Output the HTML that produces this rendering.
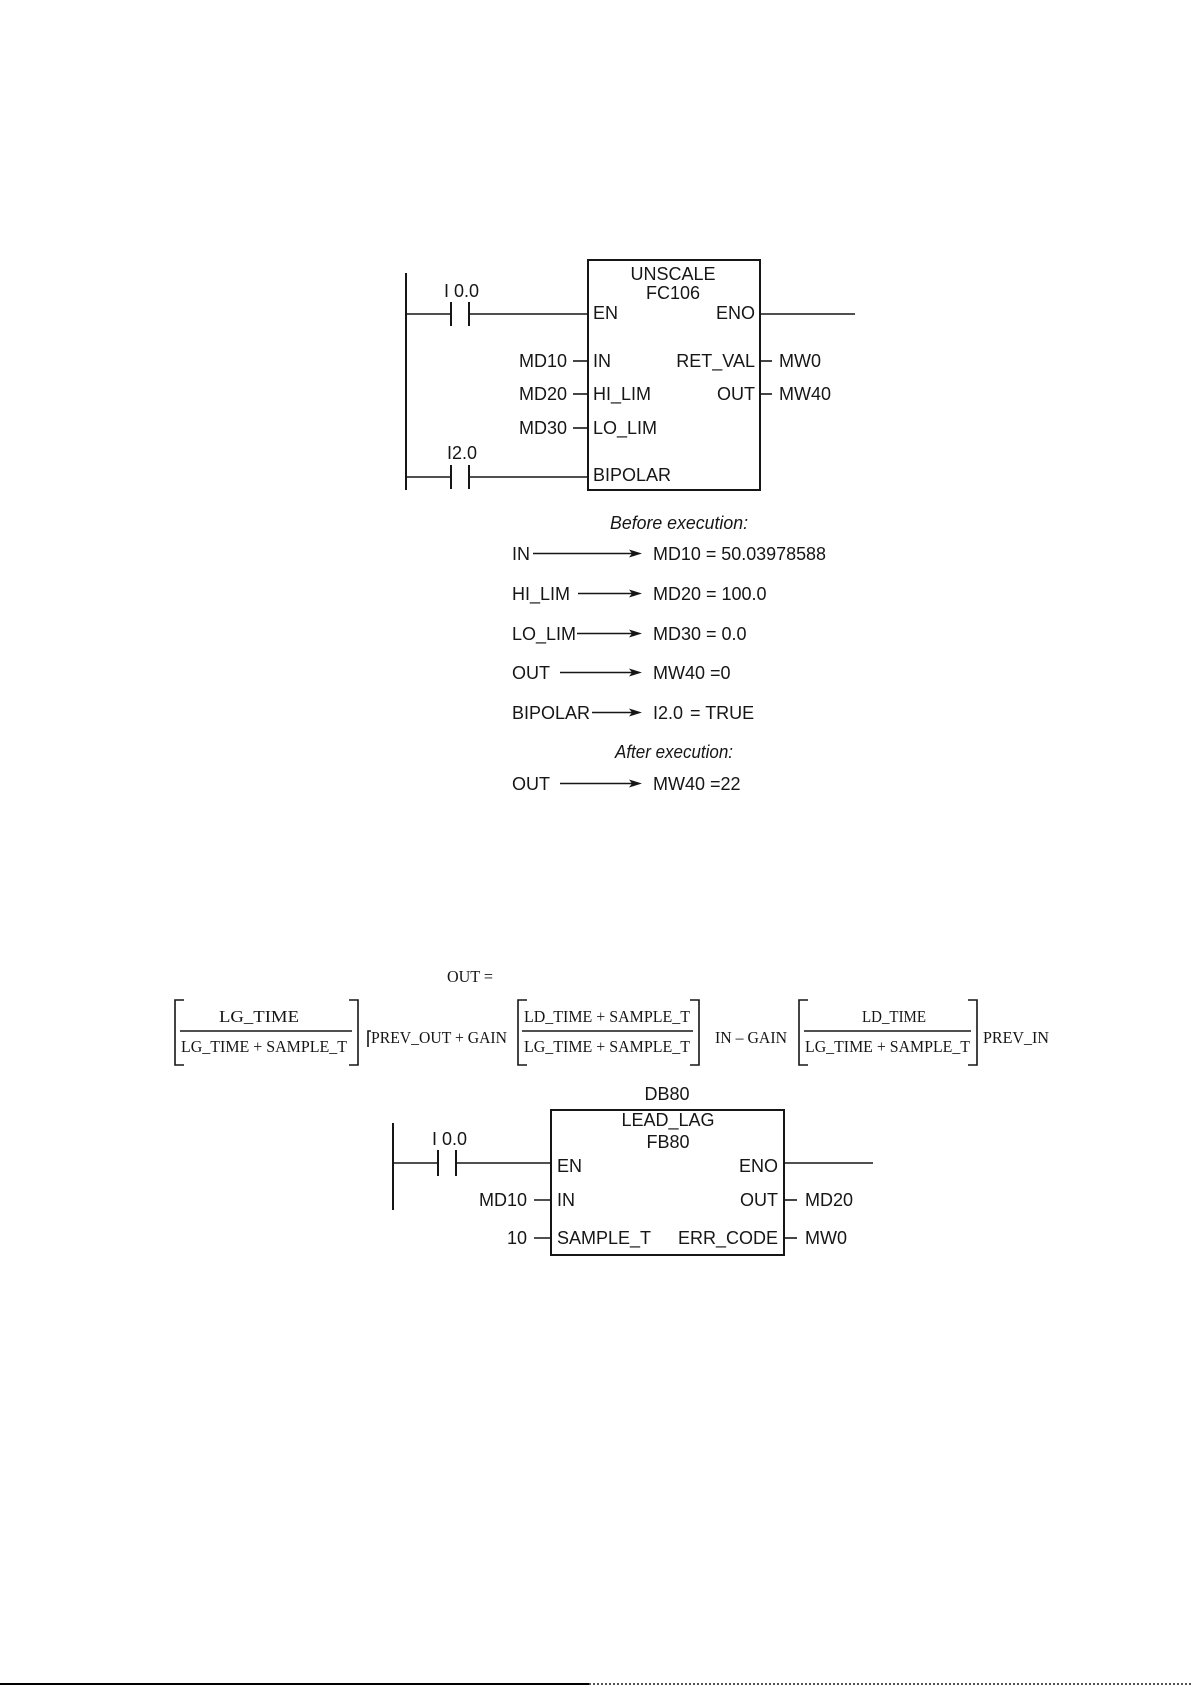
<!DOCTYPE html>
<html>
<head>
<meta charset="utf-8">
<style>
html,body{margin:0;padding:0;background:#fff;}
svg{display:block;}
.s{font-family:"Liberation Sans",Arial,sans-serif;font-size:18px;fill:#161616;}
.i{font-family:"Liberation Sans",Arial,sans-serif;font-size:18px;font-style:italic;fill:#161616;}
.f{font-family:"Liberation Serif","Times New Roman",serif;font-size:17px;fill:#161616;}
.w{stroke:#161616;stroke-width:1.6;fill:none;}
.b{stroke:#161616;stroke-width:2;fill:none;}
</style>
</head>
<body>
<svg width="1191" height="1685" viewBox="0 0 1191 1685" xmlns="http://www.w3.org/2000/svg">
<rect width="1191" height="1685" fill="#fff"/>

<!-- ===== UNSCALE diagram ===== -->
<line class="b" x1="406" y1="273" x2="406" y2="490"/>
<line class="w" x1="406" y1="314" x2="451" y2="314"/>
<line class="b" x1="451" y1="302" x2="451" y2="326"/>
<line class="b" x1="469" y1="302" x2="469" y2="326"/>
<line class="w" x1="469" y1="314" x2="588" y2="314"/>
<line class="w" x1="406" y1="477" x2="451" y2="477"/>
<line class="b" x1="451" y1="465" x2="451" y2="489"/>
<line class="b" x1="469" y1="465" x2="469" y2="489"/>
<line class="w" x1="469" y1="477" x2="588" y2="477"/>
<rect class="b" x="588" y="260" width="172" height="230"/>
<line class="w" x1="760" y1="314" x2="855" y2="314"/>
<line class="w" x1="573" y1="361" x2="588" y2="361"/>
<line class="w" x1="573" y1="394" x2="588" y2="394"/>
<line class="w" x1="573" y1="428" x2="588" y2="428"/>
<line class="w" x1="760" y1="361" x2="772" y2="361"/>
<line class="w" x1="760" y1="394" x2="772" y2="394"/>

<text class="s" x="673" y="280" text-anchor="middle">UNSCALE</text>
<text class="s" x="673" y="299" text-anchor="middle">FC106</text>
<text class="s" x="444" y="297">I 0.0</text>
<text class="s" x="593" y="319">EN</text>
<text class="s" x="755" y="319" text-anchor="end">ENO</text>
<text class="s" x="567" y="367" text-anchor="end">MD10</text>
<text class="s" x="593" y="367">IN</text>
<text class="s" x="755" y="367" text-anchor="end">RET_VAL</text>
<text class="s" x="779" y="367">MW0</text>
<text class="s" x="567" y="400" text-anchor="end">MD20</text>
<text class="s" x="593" y="400">HI_LIM</text>
<text class="s" x="755" y="400" text-anchor="end">OUT</text>
<text class="s" x="779" y="400">MW40</text>
<text class="s" x="567" y="434" text-anchor="end">MD30</text>
<text class="s" x="593" y="434">LO_LIM</text>
<text class="s" x="447" y="459">I2.0</text>
<text class="s" x="593" y="481">BIPOLAR</text>

<!-- ===== Execution table ===== -->
<text class="i" x="610" y="529" textLength="138" lengthAdjust="spacingAndGlyphs">Before execution:</text>

<text class="s" x="512" y="560">IN</text>
<line class="w" x1="533" y1="553.5" x2="634" y2="553.5"/>
<polygon points="642,553.5 629,549.5 632,553.5 629,557.5" fill="#161616"/>
<text class="s" x="653" y="560" textLength="173" lengthAdjust="spacingAndGlyphs">MD10 = 50.03978588</text>

<text class="s" x="512" y="600">HI_LIM</text>
<line class="w" x1="578" y1="593.5" x2="634" y2="593.5"/>
<polygon points="642,593.5 629,589.5 632,593.5 629,597.5" fill="#161616"/>
<text class="s" x="653" y="600">MD20 = 100.0</text>

<text class="s" x="512" y="640">LO_LIM</text>
<line class="w" x1="577" y1="633.5" x2="634" y2="633.5"/>
<polygon points="642,633.5 629,629.5 632,633.5 629,637.5" fill="#161616"/>
<text class="s" x="653" y="640">MD30 = 0.0</text>

<text class="s" x="512" y="679">OUT</text>
<line class="w" x1="560" y1="672.5" x2="634" y2="672.5"/>
<polygon points="642,672.5 629,668.5 632,672.5 629,676.5" fill="#161616"/>
<text class="s" x="653" y="679">MW40 =0</text>

<text class="s" x="512" y="719">BIPOLAR</text>
<line class="w" x1="592" y1="712.5" x2="634" y2="712.5"/>
<polygon points="642,712.5 629,708.5 632,712.5 629,716.5" fill="#161616"/>
<text class="s" x="653" y="719">I2.0</text>
<text class="s" x="690" y="719">= TRUE</text>

<text class="i" x="615" y="758" textLength="118" lengthAdjust="spacingAndGlyphs">After execution:</text>

<text class="s" x="512" y="790">OUT</text>
<line class="w" x1="560" y1="783.5" x2="634" y2="783.5"/>
<polygon points="642,783.5 629,779.5 632,783.5 629,787.5" fill="#161616"/>
<text class="s" x="653" y="790">MW40 =22</text>

<!-- ===== Formula ===== -->
<text class="f" x="447" y="982" textLength="46" lengthAdjust="spacingAndGlyphs">OUT =</text>

<path class="w" d="M184,1000 H175 V1065 H184"/>
<path class="w" d="M349,1000 H358 V1065 H349"/>
<line class="w" x1="180" y1="1031" x2="352" y2="1031" stroke-width="1.3"/>
<text class="f" x="219" y="1022" textLength="80" lengthAdjust="spacingAndGlyphs">LG_TIME</text>
<text class="f" x="181" y="1052" textLength="166" lengthAdjust="spacingAndGlyphs">LG_TIME + SAMPLE_T</text>

<path class="w" d="M371,1031 H368 V1047" stroke-width="1.2"/>
<text class="f" x="371" y="1043" textLength="136" lengthAdjust="spacingAndGlyphs">PREV_OUT + GAIN</text>

<path class="w" d="M527,1000 H518 V1065 H527"/>
<path class="w" d="M690,1000 H699 V1065 H690"/>
<line class="w" x1="522" y1="1031" x2="693" y2="1031" stroke-width="1.3"/>
<text class="f" x="524" y="1022" textLength="166" lengthAdjust="spacingAndGlyphs">LD_TIME + SAMPLE_T</text>
<text class="f" x="524" y="1052" textLength="166" lengthAdjust="spacingAndGlyphs">LG_TIME + SAMPLE_T</text>

<text class="f" x="715" y="1043" textLength="72" lengthAdjust="spacingAndGlyphs">IN – GAIN</text>

<path class="w" d="M808,1000 H799 V1065 H808"/>
<path class="w" d="M968,1000 H977 V1065 H968"/>
<line class="w" x1="804" y1="1031" x2="971" y2="1031" stroke-width="1.3"/>
<text class="f" x="862" y="1022" textLength="64" lengthAdjust="spacingAndGlyphs">LD_TIME</text>
<text class="f" x="805" y="1052" textLength="165" lengthAdjust="spacingAndGlyphs">LG_TIME + SAMPLE_T</text>

<text class="f" x="983" y="1043" textLength="66" lengthAdjust="spacingAndGlyphs">PREV_IN</text>

<!-- ===== LEAD_LAG diagram ===== -->
<text class="s" x="667" y="1100" text-anchor="middle">DB80</text>
<rect class="b" x="551" y="1110" width="233" height="145"/>
<text class="s" x="668" y="1126" text-anchor="middle">LEAD_LAG</text>
<text class="s" x="668" y="1148" text-anchor="middle">FB80</text>

<line class="b" x1="393" y1="1123" x2="393" y2="1210"/>
<line class="w" x1="393" y1="1163" x2="438" y2="1163"/>
<line class="b" x1="438" y1="1150" x2="438" y2="1176"/>
<line class="b" x1="456" y1="1150" x2="456" y2="1176"/>
<line class="w" x1="456" y1="1163" x2="551" y2="1163"/>
<text class="s" x="432" y="1145">I 0.0</text>

<text class="s" x="557" y="1172">EN</text>
<text class="s" x="778" y="1172" text-anchor="end">ENO</text>
<line class="w" x1="784" y1="1163" x2="873" y2="1163"/>

<text class="s" x="527" y="1206" text-anchor="end">MD10</text>
<line class="w" x1="534" y1="1200" x2="551" y2="1200"/>
<text class="s" x="557" y="1206">IN</text>
<text class="s" x="778" y="1206" text-anchor="end">OUT</text>
<line class="w" x1="784" y1="1200" x2="797" y2="1200"/>
<text class="s" x="805" y="1206">MD20</text>

<text class="s" x="527" y="1244" text-anchor="end">10</text>
<line class="w" x1="534" y1="1238" x2="551" y2="1238"/>
<text class="s" x="557" y="1244">SAMPLE_T</text>
<text class="s" x="778" y="1244" text-anchor="end">ERR_CODE</text>
<line class="w" x1="784" y1="1238" x2="797" y2="1238"/>
<text class="s" x="805" y="1244">MW0</text>

<line x1="0" y1="1684" x2="589" y2="1684" stroke="#000" stroke-width="2"/>
<line x1="589" y1="1684" x2="1191" y2="1684" stroke="#555" stroke-width="2" stroke-dasharray="2 2"/>
</svg>
</body>
</html>
